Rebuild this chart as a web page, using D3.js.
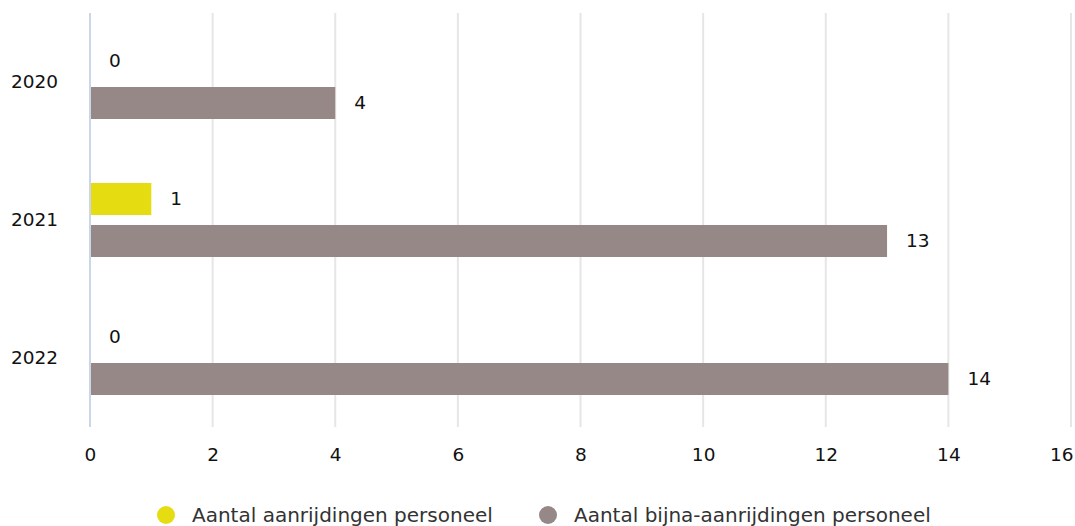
<!DOCTYPE html>
<html>
<head>
<meta charset="utf-8">
<script src="https://d3js.org/d3.v7.min.js"></script>
<style>
  body { margin: 0; background: #fff; }
  svg { display: block; font-family: "DejaVu Sans", Verdana, sans-serif; }
</style>
</head>
<body>
<div id="chart"></div>
<script>
'use strict';

// ─── DATA ────────────────────────────────────────────────────
var years = ['2020', '2021', '2022'];
var seriesNames = ['Aantal aanrijdingen personeel', 'Aantal bijna-aanrijdingen personeel'];
var aanrijdingen = [0, 1, 0];
var bijnaAanrijdingen = [4, 13, 14];
var xTicks = [0, 2, 4, 6, 8, 10, 12, 14, 16];
var colors = ['#e6dc12', '#968886'];

// ─── LAYOUT ──────────────────────────────────────────────────
var width = 1075, height = 526;
var plot = { left: 90, right: 1071, top: 13, bottom: 427 };
var fontSize = 18.5;

var svg = d3.select('#chart').append('svg')
    .attr('width', width)
    .attr('height', height);

var x = d3.scaleLinear().domain([0, 16]).range([plot.left, plot.right]);
var y = d3.scaleBand().domain(years).range([plot.top, plot.bottom]);
var inner = d3.scaleBand().domain([0, 1]).range([-37, 37]).paddingInner(10 / 42);

// gridlines
svg.append('g')
    .selectAll('line')
    .data(xTicks.slice(1))
    .enter()
    .append('line')
    .attr('x1', function(d) { return x(d); })
    .attr('x2', function(d) { return x(d); })
    .attr('y1', plot.top)
    .attr('y2', plot.bottom)
    .attr('stroke', '#e6e6e6')
    .attr('stroke-width', 2);

// x axis labels
var xAxis = d3.axisBottom(x).tickValues(xTicks).tickSize(0).tickPadding(21);
var gx = svg.append('g')
    .attr('transform', 'translate(0,' + plot.bottom + ')')
    .call(xAxis);
gx.select('.domain').remove();
gx.attr('font-size', null).attr('font-family', null);
gx.selectAll('text')
    .attr('font-size', fontSize)
    .attr('fill', '#111');
// last label is pulled in so it stays inside the frame
gx.selectAll('text')
    .filter(function(d) { return d === 16; })
    .attr('text-anchor', 'end')
    .attr('x', 2);

// y axis labels
var yAxis = d3.axisLeft(y).tickSize(0).tickPadding(32);
var gy = svg.append('g')
    .attr('transform', 'translate(' + plot.left + ',0)')
    .call(yAxis);
gy.select('.domain').remove();
gy.attr('font-size', null).attr('font-family', null);
gy.selectAll('text')
    .attr('font-size', fontSize)
    .attr('fill', '#111');

// bars
var series = [aanrijdingen, bijnaAanrijdingen];
series.forEach(function(values, si) {
    var g = svg.append('g');
    var rows = years.map(function(yr, i) { return { year: yr, value: values[i] }; });
    var barY = function(d) { return y(d.year) + y.bandwidth() / 2 + inner(si); };

    g.selectAll('rect')
        .data(rows)
        .enter()
        .append('rect')
        .attr('x', x(0))
        .attr('y', barY)
        .attr('width', function(d) { return x(d.value) - x(0); })
        .attr('height', inner.bandwidth())
        .attr('fill', colors[si]);

    g.selectAll('text')
        .data(rows)
        .enter()
        .append('text')
        .attr('x', function(d) { return x(d.value) + 19; })
        .attr('y', function(d) { return barY(d) + inner.bandwidth() / 2; })
        .attr('dy', '0.35em')
        .attr('font-size', fontSize)
        .attr('fill', '#111')
        .text(function(d) { return d.value; });
});

// axis line
svg.append('line')
    .attr('x1', x(0)).attr('x2', x(0))
    .attr('y1', plot.top).attr('y2', plot.bottom)
    .attr('stroke', '#ccd6eb')
    .attr('stroke-width', 2);

// legend
var legendX = [166, 548];
var legend = svg.append('g');
seriesNames.forEach(function(name, i) {
    legend.append('circle')
        .attr('cx', legendX[i])
        .attr('cy', 515)
        .attr('r', 9)
        .attr('fill', colors[i]);
    legend.append('text')
        .attr('x', legendX[i] + 26)
        .attr('y', 515)
        .attr('dy', '0.35em')
        .attr('font-size', 20)
        .attr('fill', '#333')
        .text(name);
});
</script>
</body>
</html>
